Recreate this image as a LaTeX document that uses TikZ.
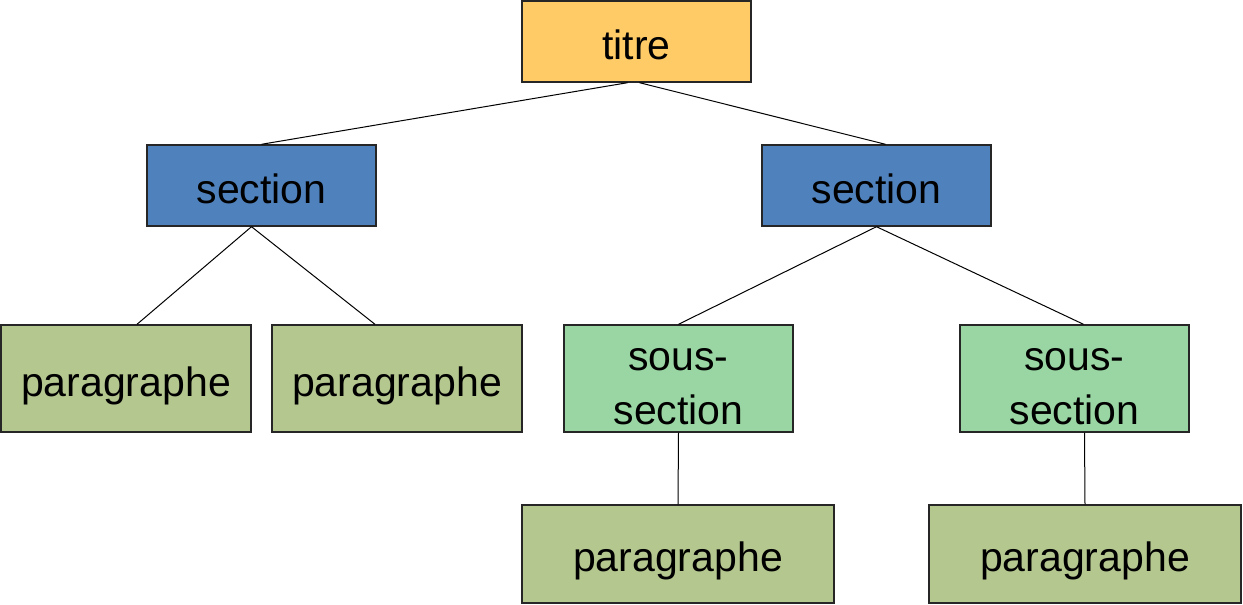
\documentclass[tikz,border=0pt]{standalone}
\usepackage{fontspec}
\setmainfont{Liberation Sans}
\definecolor{titrecol}{RGB}{254,203,102}
\definecolor{sectcol}{RGB}{79,129,189}
\definecolor{paracol}{RGB}{180,199,143}
\definecolor{souscol}{RGB}{154,214,163}
\tikzset{
  box/.style={draw=black!85, line width=1.4pt, rectangle, inner sep=0pt, align=center,
    text height=35pt, text depth=0pt,
    font=\fontsize{41}{54}\selectfont},
  titrebox/.style={box, fill=titrecol, minimum width=229pt, minimum height=81pt},
  sectbox/.style={box, fill=sectcol, minimum width=229pt, minimum height=81pt},
  parabox/.style={box, fill=paracol, minimum width=250pt, minimum height=107pt},
  parabox2/.style={box, fill=paracol, minimum width=312pt, minimum height=98pt},
  sousbox/.style={box, fill=souscol, minimum width=229pt, minimum height=107pt},
  link/.style={draw=black, line width=1pt}
}
\newcommand{\twolines}[2]{\raisebox{3pt}{\begin{tabular}{@{}c@{}}#1\\#2\end{tabular}}}
\begin{document}
\begin{tikzpicture}[x=1pt,y=-1pt]
\useasboundingbox (0,0) rectangle (1243,605);
\node[titrebox] (titre) at (636.5,41.5) {titre};
\node[sectbox] (secL) at (261.5,185.5) {section};
\node[sectbox] (secR) at (876.5,185.5) {section};
\node[parabox] (p1) at (126,378.5) {paragraphe};
\node[parabox] (p2) at (397,378.5) {paragraphe};
\node[sousbox] (s1) at (678.5,378.5) {\twolines{sous-}{section}};
\node[sousbox] (s2) at (1074.5,378.5) {\twolines{sous-}{section}};
\node[parabox2] (p3) at (678,554) {paragraphe};
\node[parabox2] (p4) at (1085,554) {paragraphe};
\draw[link] ([xshift=-9pt]titre.south) -- (secL.north);
\draw[link] ([xshift=3pt]titre.south) -- ([xshift=9pt]secR.north);
\draw[link] ([xshift=-10pt]secL.south) -- ([xshift=11pt]p1.north);
\draw[link] ([xshift=-10pt]secL.south) -- ([xshift=-22pt]p2.north);
\draw[link] (secR.south) -- (s1.north);
\draw[link] (secR.south) -- ([xshift=9pt]s2.north);
\draw[link] (s1.south) -- (p3.north);
\draw[link] ([xshift=10pt]s2.south) -- (p4.north);
\end{tikzpicture}
\end{document}
